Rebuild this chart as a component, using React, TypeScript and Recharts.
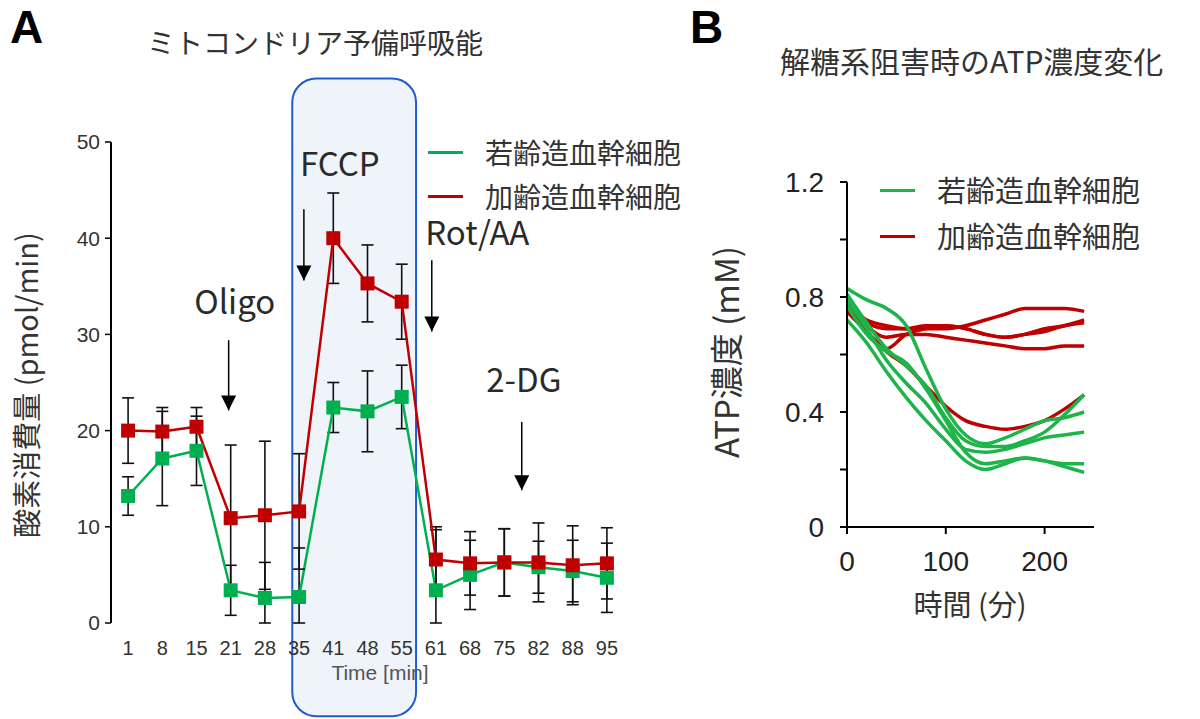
import React from "react";
import {
  ComposedChart,
  LineChart,
  Line,
  XAxis,
  YAxis,
  ErrorBar,
  ReferenceArea,
  ReferenceLine,
  ReferenceDot,
} from "recharts";

// --- panel A: oxygen consumption (Seahorse-style trace)
const timeLabels = ["1", "8", "15", "21", "28", "35", "41", "48", "55", "61", "68", "75", "82", "88", "95"];
const youngOcr = [13.2, 17.1, 17.9, 3.4, 2.6, 2.7, 22.4, 22.0, 23.5, 3.4, 5.0, 6.3, 5.8, 5.4, 4.7];
const youngSd = [2.0, 4.9, 3.6, 2.6, 3.7, 5.1, 2.6, 4.2, 3.3, 6.3, 3.6, 3.5, 2.7, 3.2, 3.6];
const agedOcr = [20.0, 19.9, 20.4, 10.9, 11.2, 11.6, 40.0, 35.3, 33.4, 6.6, 6.2, 6.3, 6.3, 6.0, 6.2];
const agedSd = [3.4, 2.5, 2.0, 7.6, 7.7, 6.0, 4.7, 4.0, 3.9, 3.4, 3.3, 3.5, 4.1, 4.1, 3.7];
const ocrTicks = [0, 10, 20, 30, 40, 50];

// injections (x in sample slots, y in pmol/min)
const injections = ["Oligo", "FCCP", "Rot/AA", "2-DG"];
const injectionX = [3.44, 5.64, 9.38, 12.01];
const arrowTop = [29.4, 43.0, 37.7, 20.9];
const arrowTip = [22.1, 35.6, 30.3, 13.8];
const injLabelX = [3.62, 6.69, 10.71, 12.07];
const injLabelY = [33.6, 47.9, 40.7, 25.5];

// --- panel B: ATP concentration under glycolysis inhibition
const minutes = [0, 20, 40, 60, 80, 100, 120, 140, 160, 180, 200, 220, 240];
const young1 = [0.83, 0.79, 0.76, 0.7, 0.55, 0.41, 0.32, 0.29, 0.31, 0.34, 0.37, 0.38, 0.4];
const young2 = [0.81, 0.71, 0.62, 0.56, 0.49, 0.38, 0.3, 0.28, 0.28, 0.3, 0.33, 0.39, 0.46];
const young3 = [0.79, 0.69, 0.58, 0.5, 0.43, 0.34, 0.27, 0.26, 0.27, 0.29, 0.31, 0.32, 0.33];
const young4 = [0.77, 0.67, 0.61, 0.57, 0.48, 0.37, 0.26, 0.22, 0.23, 0.24, 0.23, 0.22, 0.22];
const young5 = [0.72, 0.64, 0.54, 0.45, 0.37, 0.3, 0.23, 0.2, 0.22, 0.24, 0.23, 0.21, 0.19];
const aged1 = [0.77, 0.72, 0.7, 0.69, 0.69, 0.69, 0.7, 0.72, 0.74, 0.76, 0.76, 0.76, 0.75];
const aged2 = [0.76, 0.71, 0.69, 0.69, 0.7, 0.7, 0.69, 0.67, 0.66, 0.67, 0.69, 0.7, 0.72];
const aged3 = [0.75, 0.68, 0.62, 0.67, 0.69, 0.7, 0.69, 0.67, 0.66, 0.67, 0.68, 0.7, 0.71];
const aged4 = [0.78, 0.7, 0.66, 0.67, 0.67, 0.66, 0.65, 0.64, 0.63, 0.62, 0.62, 0.63, 0.63];
const aged5 = [0.76, 0.68, 0.61, 0.56, 0.49, 0.42, 0.37, 0.35, 0.34, 0.35, 0.37, 0.41, 0.46];
const atpTicks = [0, 0.2, 0.4, 0.6, 0.8, 1.0, 1.2];
const minuteTicks = [0, 100, 200];

const GREEN = "#00b050";
const RED = "#c00000";
const JP = '"Noto Sans CJK JP", "Noto Sans", sans-serif';
const LAT = '"Liberation Sans", Arial, sans-serif';

const oxygenRows = timeLabels.map((t, i) => ({
  x: i + 0.5,
  young: youngOcr[i],
  youngErr: [Math.min(youngSd[i], youngOcr[i]), youngSd[i]],
  aged: agedOcr[i],
  agedErr: [Math.min(agedSd[i], agedOcr[i]), agedSd[i]],
}));
const slotEdges = [...timeLabels.map((_, i) => i), timeLabels.length];
const slotCenters = timeLabels.map((_, i) => i + 0.5);

const youngCurves = [young1, young2, young3, young4, young5];
const agedCurves = [aged1, aged2, aged3, aged4, aged5];
const atpRows = minutes.map((t, i) => {
  const row: Record<string, number> = { t };
  youngCurves.forEach((c, k) => (row[`y${k}`] = c[i]));
  agedCurves.forEach((c, k) => (row[`a${k}`] = c[i]));
  return row;
});

function Txt(props: {
  x: number;
  y: number;
  size: number;
  children: React.ReactNode;
  left?: boolean;
  rotate?: boolean;
  bold?: boolean;
  color?: string;
  family?: string;
}) {
  const { x, y, size, left, rotate, bold, color, family } = props;
  return (
    <div
      style={{
        position: "absolute",
        left: x,
        top: y,
        transform: `translate(${left ? "0" : "-50%"}, -50%)${rotate ? " rotate(-90deg)" : ""}`,
        fontSize: size,
        fontFamily: family || JP,
        fontWeight: bold ? 700 : 400,
        color: color || "#333",
        whiteSpace: "nowrap",
        lineHeight: 1.15,
      }}
    >
      {props.children}
    </div>
  );
}

function LegendRow({ x, y, color, label, size }: { x: number; y: number; color: string; label: string; size: number }) {
  return (
    <>
      <div style={{ position: "absolute", left: x, top: y - 1.5, width: 35, height: 3, background: color }} />
      <Txt x={x + 57} y={y} size={size} left>
        {label}
      </Txt>
    </>
  );
}

const square = (color: string) => (p: any) =>
  p.cx == null ? <g /> : <rect x={p.cx - 7} y={p.cy - 7} width={14} height={14} fill={color} />;

const arrowHead = (p: any) => (
  <path d={`M${p.cx - 7.5},${p.cy - 15} L${p.cx + 7.5},${p.cy - 15} L${p.cx},${p.cy} Z`} fill="#000" />
);

const injText = (label: string) => (p: any) => (
  <text x={p.cx} y={p.cy} textAnchor="middle" dominantBaseline="central" fontSize={33} fontFamily={JP} fill="#2a2a2a">
    {label}
  </text>
);

export default function App() {
  return (
    <div style={{ position: "absolute", left: 0, top: 0, width: 1200, height: 719, background: "#fff", overflow: "hidden" }}>
      <div style={{ position: "absolute", left: 0, top: 0 }}>
        <ComposedChart width={660} height={719} data={oxygenRows} margin={{ top: 142, right: 36, bottom: 56, left: 51 }}>
          <XAxis
            xAxisId="edge"
            type="number"
            dataKey="x"
            domain={[0, 15]}
            ticks={slotEdges}
            tickFormatter={() => ""}
            tickSize={7}
            height={0}
            allowDataOverflow
            axisLine={{ stroke: "#000", strokeWidth: 2 }}
            tickLine={{ stroke: "#000", strokeWidth: 1.5 }}
          />
          <XAxis
            xAxisId="mid"
            type="number"
            dataKey="x"
            domain={[0, 15]}
            ticks={slotCenters}
            interval={0}
            tickFormatter={(v: number) => timeLabels[Math.floor(v)]}
            axisLine={false}
            tickLine={false}
            tickSize={7}
            tickMargin={11}
            height={40}
            allowDataOverflow
            tick={{ fontSize: 20, fill: "#333", fontFamily: LAT }}
          />
          <YAxis
            yAxisId="v"
            domain={[0, 50]}
            ticks={ocrTicks}
            allowDataOverflow
            width={60}
            tickSize={6}
            tickMargin={5}
            axisLine={{ stroke: "#000", strokeWidth: 2 }}
            tickLine={{ stroke: "#000", strokeWidth: 1.5 }}
            tick={{ fontSize: 21, fill: "#333", fontFamily: LAT }}
          />
          <ReferenceArea
            xAxisId="edge"
            yAxisId="v"
            x1={5.3}
            x2={8.92}
            y1={-9.7}
            y2={56.6}
            ifOverflow="visible"
            shape={(p: any) => (
              <rect x={p.x} y={p.y} width={p.width} height={p.height} rx={24} fill="#eff3fa" stroke="#1f5bd0" strokeWidth={2} />
            )}
          />
          {injections.map((name, i) => (
            <ReferenceLine
              key={`s${name}`}
              xAxisId="edge"
              yAxisId="v"
              ifOverflow="visible"
              segment={[
                { x: injectionX[i], y: arrowTop[i] },
                { x: injectionX[i], y: arrowTip[i] },
              ]}
              stroke="#000"
              strokeWidth={1.5}
            />
          ))}
          {injections.map((name, i) => (
            <ReferenceDot key={`h${name}`} xAxisId="edge" yAxisId="v" x={injectionX[i]} y={arrowTip[i]} ifOverflow="visible" shape={arrowHead} />
          ))}
          {injections.map((name, i) => (
            <ReferenceDot key={`t${name}`} xAxisId="edge" yAxisId="v" x={injLabelX[i]} y={injLabelY[i]} ifOverflow="visible" shape={injText(name)} />
          ))}
          <Line
            xAxisId="edge"
            yAxisId="v"
            dataKey="young"
            stroke={GREEN}
            strokeWidth={2.5}
            dot={square(GREEN)}
            activeDot={false}
            isAnimationActive={false}
          >
            <ErrorBar dataKey="youngErr" direction="y" width={6} stroke="#111" strokeWidth={1.6} />
          </Line>
          <Line
            xAxisId="edge"
            yAxisId="v"
            dataKey="aged"
            stroke={RED}
            strokeWidth={2.5}
            dot={square(RED)}
            activeDot={false}
            isAnimationActive={false}
          >
            <ErrorBar dataKey="agedErr" direction="y" width={6} stroke="#111" strokeWidth={1.6} />
          </Line>
        </ComposedChart>
      </div>

      <div style={{ position: "absolute", left: 700, top: 0 }}>
        <LineChart width={500} height={719} data={atpRows} margin={{ top: 182, right: 106, bottom: 142, left: 87 }}>
          <XAxis
            type="number"
            dataKey="t"
            domain={[0, 250]}
            ticks={minuteTicks}
            allowDataOverflow
            height={50}
            tickSize={7}
            tickMargin={17}
            axisLine={{ stroke: "#000", strokeWidth: 2 }}
            tickLine={{ stroke: "#000", strokeWidth: 2 }}
            tick={{ fontSize: 28, fill: "#222", fontFamily: LAT }}
          />
          <YAxis
            domain={[0, 1.2]}
            ticks={atpTicks}
            allowDataOverflow
            width={60}
            tickSize={7}
            tickMargin={16}
            tickFormatter={(v: number) => (Math.round(v * 10) % 4 === 0 ? String(v) : "")}
            axisLine={{ stroke: "#000", strokeWidth: 2 }}
            tickLine={{ stroke: "#000", strokeWidth: 2 }}
            tick={{ fontSize: 28, fill: "#222", fontFamily: LAT }}
          />
          {agedCurves.map((_, k) => (
            <Line key={`a${k}`} type="monotone" dataKey={`a${k}`} stroke={RED} strokeWidth={3.5} dot={false} activeDot={false} isAnimationActive={false} />
          ))}
          {youngCurves.map((_, k) => (
            <Line key={`y${k}`} type="monotone" dataKey={`y${k}`} stroke="#1db44a" strokeWidth={3.5} dot={false} activeDot={false} isAnimationActive={false} />
          ))}
        </LineChart>
      </div>

      {/* panel A text */}
      <Txt x={10} y={27} size={46} left bold family={LAT} color="#000">
        A
      </Txt>
      <Txt x={315} y={42} size={28}>
        ミトコンドリア予備呼吸能
      </Txt>
      <Txt x={26} y={385} size={29} rotate>
        酸素消費量 (pmol/min)
      </Txt>
      <Txt x={380} y={673} size={21} family={LAT} color="#555">
        Time [min]
      </Txt>
      <LegendRow x={428} y={152} color={GREEN} label="若齢造血幹細胞" size={28} />
      <LegendRow x={428} y={196} color={RED} label="加齢造血幹細胞" size={28} />

      {/* panel B text */}
      <Txt x={690} y={27} size={46} left bold family={LAT} color="#000">
        B
      </Txt>
      <Txt x={780} y={60} size={30} left>
        解糖系阻害時のATP濃度変化
      </Txt>
      <Txt x={726} y={352} size={33} rotate>
        ATP濃度 (mM)
      </Txt>
      <Txt x={970} y={604} size={29}>
        時間 (分)
      </Txt>
      <LegendRow x={880} y={190} color="#1db44a" label="若齢造血幹細胞" size={29} />
      <LegendRow x={880} y={236} color={RED} label="加齢造血幹細胞" size={29} />
    </div>
  );
}
